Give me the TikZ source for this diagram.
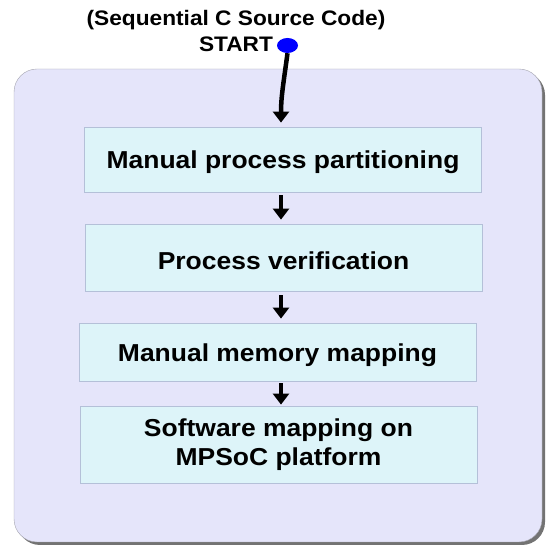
\documentclass[tikz,border=0pt]{standalone}
\usepackage{fontspec}
\setmainfont{Liberation Sans}[FakeStretch=1.08]
\usepackage{xcolor}
\usetikzlibrary{positioning,arrows.meta,shapes.geometric,shadows}

\definecolor{panelfill}{RGB}{229,229,250}
\definecolor{panelline}{RGB}{165,165,175}
\definecolor{stagefill}{RGB}{221,244,249}
\definecolor{stageline}{RGB}{180,192,216}

\begin{document}
\begin{tikzpicture}[
    x=1pt, y=1pt,
    panel/.style={rectangle, draw=panelline, fill=panelfill, rounded corners=23pt, minimum width=528pt, minimum height=473pt,
        drop shadow={shadow xshift=3pt, shadow yshift=-3pt, fill=black!55, opacity=1}},
    stage/.style={rectangle, draw=stageline, fill=stagefill, line width=0.8pt, minimum width=397pt, inner sep=0pt, align=center,
        font=\fontsize{24.5}{29}\selectfont\bfseries},
    oneline/.style={text height=24pt},
    caption/.style={inner sep=0pt, anchor=base, font=\fontsize{21}{25}\selectfont\bfseries},
    flow/.style={-{Triangle[width=16pt,length=11pt]}, line width=4.5pt}
]
    \useasboundingbox (0,0) rectangle (546,545);
    \node[panel] (panel) at (278,239.5) {};

    \node[caption] (source) at (236,519) {(Sequential C Source Code)};
    \node[caption] (startlabel) at (236,493) {START};
    \node[ellipse, fill=blue, minimum width=21pt, minimum height=15pt, inner sep=0pt] (start) at (287.5,499.5) {};

    \node[stage, oneline, minimum height=65pt] (partition) at (283,385.5) {Manual process partitioning};
    \node[stage, oneline, minimum height=67pt] (verify) at (283.5,287.5) {Process verification};
    \node[stage, oneline, minimum height=58pt] (memmap) at (277.5,193) {Manual memory mapping};
    \node[stage, minimum height=77pt] (swmap) at (278.5,100.5) {Software mapping on\\MPSoC platform};

    \coordinate (axis) at (281,0);

    \draw[flow, shorten >=4pt] (start.south) .. controls +(-4,-30) and +(0,30) .. (partition.north -| axis);
    \draw[flow, shorten <=3pt, shorten >=4pt] (partition.south -| axis) -- (verify.north -| axis);
    \draw[flow, shorten <=4pt, shorten >=4pt] (verify.south -| axis) -- (memmap.north -| axis);
    \draw[flow, shorten <=2pt, shorten >=1pt] (memmap.south -| axis) -- (swmap.north -| axis);
\end{tikzpicture}
\end{document}
